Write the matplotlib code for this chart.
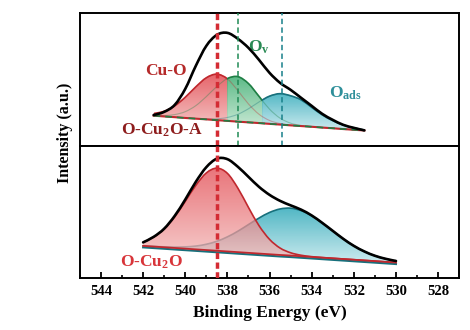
import numpy as np
import matplotlib.pyplot as plt
from matplotlib.colors import LinearSegmentedColormap
from matplotlib.path import Path
from matplotlib.patches import PathPatch

plt.rcParams['font.family'] = ['Liberation Serif', 'DejaVu Serif']
plt.rcParams['font.weight'] = 'bold'
plt.rcParams['mathtext.fontset'] = 'custom'
plt.rcParams['mathtext.rm'] = 'Liberation Serif:bold'
plt.rcParams['mathtext.bf'] = 'Liberation Serif:bold'
plt.rcParams['mathtext.it'] = 'Liberation Serif:bold'

# O 1s, O-Cu2O-A (top panel)
e_top = [541.5, 541.0, 540.5, 540.0, 539.5, 539.0, 538.5, 538.0, 537.5, 537.0, 536.5,
         536.0, 535.5, 535.0, 534.5, 534.0, 533.5, 533.0, 532.5, 532.0, 531.5]
base_top = [30.2, 29.4, 28.7, 27.9, 27.2, 26.5, 25.7, 25.0, 24.2, 23.5, 22.8,
            22.0, 21.3, 20.5, 19.8, 19.1, 18.3, 17.6, 16.8, 16.1, 15.4]
cuo_top = [32.3, 34.6, 40.0, 48.6, 59.0, 68.1, 71.7, 67.0, 55.2, 41.9, 31.6,
           25.4, 22.3, 20.8, 19.9, 19.1, 18.3, 17.6, 16.8, 16.1, 15.4]
ov_top = [30.2, 30.3, 31.3, 34.2, 40.2, 49.3, 59.4, 67.3, 69.2, 62.3, 49.5,
          36.7, 27.7, 22.7, 20.4, 19.2, 18.3, 17.6, 16.8, 16.1, 15.4]
oads_top = [30.2, 29.4, 28.7, 27.9, 27.3, 26.9, 27.0, 28.4, 31.6, 37.1, 43.9,
            49.7, 52.2, 50.1, 46.0, 38.5, 31.0, 25.2, 20.8, 18.0, 15.8]
env_top = [30.8, 34.0, 41.0, 57.0, 80.0, 100.0, 111.0, 113.0, 107.0, 98.0, 86.0,
           73.0, 63.0, 56.0, 48.0, 40.0, 32.0, 26.0, 21.0, 18.0, 15.5]

# O 1s, O-Cu2O (bottom panel)
e_bot = [542.0, 541.5, 541.0, 540.5, 540.0, 539.5, 539.0, 538.5, 538.0, 537.5, 537.0,
         536.5, 536.0, 535.5, 535.0, 534.5, 534.0, 533.5, 533.0, 532.5, 532.0, 531.5,
         531.0, 530.5, 530.0]
base_bot = [32.0, 31.3, 30.6, 29.9, 29.2, 28.5, 27.8, 27.1, 26.4, 25.7, 25.0,
            24.3, 23.6, 22.9, 22.3, 21.6, 20.9, 20.2, 19.5, 18.8, 18.1, 17.4,
            16.7, 16.0, 15.3]
cuo_bot = [35.5, 40.8, 48.8, 61.0, 76.5, 92.5, 104.9, 109.7, 104.5, 89.6, 70.4,
           52.2, 38.5, 29.8, 25.1, 22.6, 21.2, 20.3, 19.6, 18.9, 18.2, 17.5,
           16.8, 16.0, 15.3]
oads_bot = [32.1, 31.5, 31.0, 30.8, 31.0, 31.8, 33.6, 36.6, 41.0, 46.7, 53.3,
            59.8, 65.4, 68.9, 69.7, 67.2, 62.1, 54.9, 46.9, 39.0, 32.0, 26.4,
            22.1, 19.1, 16.5]
env_bot = [35.5, 41.0, 49.2, 62.0, 78.3, 96.0, 110.7, 119.2, 118.7, 111.0, 101.0,
           91.0, 83.0, 77.0, 72.5, 68.2, 62.4, 55.0, 47.0, 39.0, 32.0, 26.4,
           22.1, 19.1, 16.9]

peak_cuo, peak_ov, peak_oads = 538.5, 537.5, 535.4
xticks = [544, 542, 540, 538, 536, 534, 532, 530, 528]

RED = ('#e2474e', '#f4c0bf', '#c0282e')
GREEN = ('#3fae72', '#c6e8d2', '#1f7f45')
TEAL = ('#33abbb', '#c3e7ec', '#17707c')


def curve(x, y):
    # smooth bezier path through the points (drawing only)
    p = np.column_stack([x, y]).astype(float)
    n = len(p)
    verts, codes = [p[0]], [Path.MOVETO]
    for i in range(n - 1):
        p0 = p[i - 1] if i > 0 else p[i]
        p3 = p[i + 2] if i + 2 < n else p[i + 1]
        verts += [p[i] + (p[i + 1] - p0) / 6, p[i + 1] - (p3 - p[i]) / 6, p[i + 1]]
        codes += [Path.CURVE4] * 3
    return verts, codes


def smooth_line(ax, x, y, color, lw, z, alpha=1.0, clip=None):
    v, c = curve(x, y)
    pp = PathPatch(Path(v, c), fill=False, edgecolor=color, lw=lw, alpha=alpha,
                   zorder=z, capstyle='round')
    ax.add_patch(pp)
    if clip is not None:
        pp.set_clip_path(clip)


def gradient(ax, clip, x0, x1, y0, y1, cols, alpha, z):
    cmap = LinearSegmentedColormap.from_list('g', [cols[1], cols[0]])
    grad = np.linspace(0, 1, 256).reshape(-1, 1)
    im = ax.imshow(grad, extent=[x0, x1, y0, y1], origin='lower', aspect='auto',
                   cmap=cmap, alpha=alpha, zorder=z)
    im.set_clip_path(clip)


def grad_fill(ax, x, y, base, cols, alpha, z):
    v, c = curve(x, y)
    v += [[xx, bb] for xx, bb in zip(x[::-1], base[::-1])] + [[x[0], y[0]]]
    c += [Path.LINETO] * len(x) + [Path.CLOSEPOLY]
    patch = PathPatch(Path(v, c), facecolor='none', edgecolor='none')
    ax.add_patch(patch)
    gradient(ax, patch, min(x), max(x), min(base), max(y), cols, alpha, z)
    smooth_line(ax, x, y, cols[2], 1.2, z + 0.1)


def top_spans(x, comps, i):
    # x ranges where component i is the highest one
    x = np.asarray(x, float)
    c = np.asarray(comps, float)
    d = c[i] - np.delete(c, i, axis=0).max(axis=0)
    spans, start = [], None
    for k in range(len(x)):
        if d[k] > 0 and start is None:
            start = x[k] if k == 0 else x[k - 1] + (x[k] - x[k - 1]) * d[k - 1] / (d[k - 1] - d[k])
        if start is not None and (d[k] <= 0 or k == len(x) - 1):
            end = x[k] if d[k] > 0 else x[k - 1] + (x[k] - x[k - 1]) * d[k - 1] / (d[k - 1] - d[k])
            spans.append((start, end))
            start = None
    return spans


def max_fill(ax, x, comps, base, cols_list, z):
    # each column coloured by the component that is highest there
    for i, cols in enumerate(cols_list):
        y = comps[i]
        v, c = curve(x, y)
        v += [[xx, bb] for xx, bb in zip(x[::-1], base[::-1])] + [[x[0], y[0]]]
        c += [Path.LINETO] * len(x) + [Path.CLOSEPOLY]
        patch = PathPatch(Path(v, c), facecolor='none', edgecolor='none')
        ax.add_patch(patch)
        rv, rc = [], []
        for a, b in top_spans(x, comps, i):
            rv += [[a, 0], [b, 0], [b, 200], [a, 200], [a, 0]]
            rc += [Path.MOVETO, Path.LINETO, Path.LINETO, Path.LINETO, Path.CLOSEPOLY]
        rect = PathPatch(Path(rv, rc), facecolor='none', edgecolor='none')
        ax.add_patch(rect)
        # gradient clipped to component shape, then masked outside its spans
        cmap = LinearSegmentedColormap.from_list('g', [cols[1], cols[0]])
        grad = np.linspace(0, 1, 256).reshape(-1, 1)
        for a, b in top_spans(x, comps, i):
            im = ax.imshow(grad, extent=[min(a, b), max(a, b), min(base), max(y)],
                           origin='lower', aspect='auto', cmap=cmap, alpha=0.85,
                           zorder=z)
            im.set_clip_path(patch)
        smooth_line(ax, x, y, cols[2], 0.8, z + 0.2, alpha=0.35)
        smooth_line(ax, x, y, cols[2], 1.2, z + 0.3, clip=rect)


fig = plt.figure(figsize=(4.7, 3.3), dpi=100)
ax1 = fig.add_axes([0.170, 0.558, 0.807, 0.403])
ax2 = fig.add_axes([0.170, 0.158, 0.807, 0.400])

max_fill(ax1, e_top, [cuo_top, ov_top, oads_top], base_top, [RED, GREEN, TEAL], 2)
ax1.plot(e_top, base_top, color=RED[2], lw=1.5, zorder=5)
ax1.plot(e_top, base_top, color=GREEN[2], lw=1.2, ls=(0, (4, 3)), zorder=5.1)
smooth_line(ax1, e_top, env_top, 'black', 1.9, 6)

grad_fill(ax2, e_bot, oads_bot, base_bot, TEAL, 0.85, 2)
grad_fill(ax2, e_bot, cuo_bot, base_bot, RED, 0.75, 3)
ax2.plot(e_bot, np.asarray(base_bot) - 1.5, color=TEAL[2], lw=1.5, zorder=5)
ax2.plot(e_bot, base_bot, color=RED[2], lw=1.3, zorder=5.1)
smooth_line(ax2, e_bot, env_bot, 'black', 1.9, 6)

ax1.axvline(peak_ov, color='#1f8a55', lw=1.1, ls=(0, (3.5, 2.2)), zorder=7)
ax1.axvline(peak_oads, color='#17808a', lw=1.1, ls=(0, (3.5, 2.2)), zorder=7)
for ax in (ax1, ax2):
    ax.axvline(peak_cuo, color='#d42c34', lw=2.5, ls=(0, (1.8, 1.0)), zorder=8)

for ax in (ax1, ax2):
    ax.set_xlim(545, 527)
    ax.set_yticks([])
    for s in ax.spines.values():
        s.set_linewidth(1.4)
ax1.set_ylim(0, 133)
ax2.set_ylim(0, 132)
ax1.set_xticks([])
ax2.set_xticks(xticks)
ax2.set_xticks(np.arange(545, 527, -2), minor=True)
ax2.tick_params(axis='x', which='major', direction='in', length=4, width=1.3,
                labelsize=10.5, pad=5)
ax2.tick_params(axis='x', which='minor', direction='in', length=2, width=1.2)
for lab in ax2.get_xticklabels():
    lab.set_fontweight('bold')

ax1.text(540.9, 75.3, 'Cu-O', color='#b52a2a', fontsize=12.5, ha='center', va='center')
ax1.text(541.1, 16, 'O-Cu$_\\mathrm{2}$O-A', color='#8e1d1d', fontsize=12.5,
         ha='center', va='center')
ax1.text(536.5, 99, 'O$_\\mathrm{v}$', color='#2a8a55', fontsize=12.5, ha='center', va='center')
ax1.text(532.4, 53, 'O$_\\mathrm{ads}$', color='#2e8f9a', fontsize=12.5, ha='center', va='center')
ax2.text(541.6, 16, 'O-Cu$_\\mathrm{2}$O', color='#d8353a', fontsize=12.5,
         ha='center', va='center')

fig.text(0.138, 0.597, 'Intensity (a.u.)', rotation=90, fontsize=11.5,
         ha='center', va='center')
fig.text(0.574, 0.052, 'Binding Energy (eV)', fontsize=12.5, ha='center', va='center')

fig.savefig('out.png', dpi=100)
